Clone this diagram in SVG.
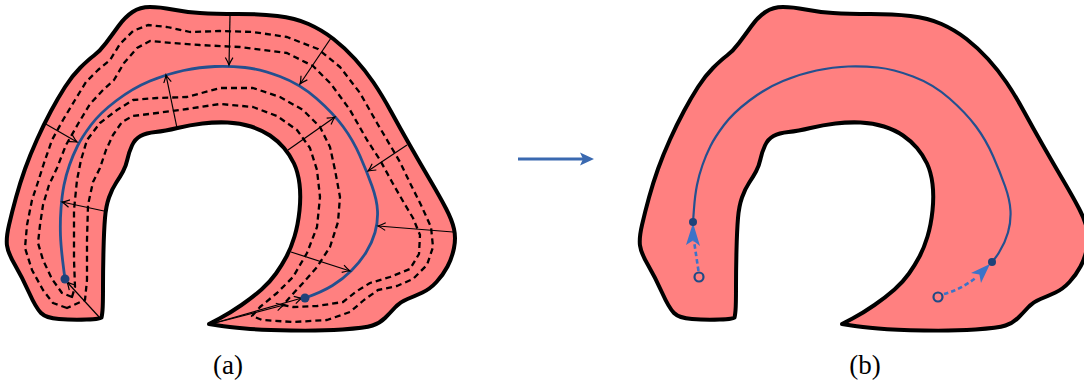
<svg xmlns="http://www.w3.org/2000/svg" xmlns:xlink="http://www.w3.org/1999/xlink" width="1084" height="385" viewBox="0 0 1084 385">
<style>
.region{fill:#ff8080;stroke:#000;stroke-width:4;stroke-linejoin:round}
.offset{fill:none;stroke:#000;stroke-width:2.3;stroke-dasharray:6 4;stroke-linejoin:round}
.axis{fill:none;stroke:#24508f;stroke-width:2.8;stroke-linecap:round}
.axis-b{fill:none;stroke:#24508f;stroke-width:2.2;stroke-linecap:round}
.normal{fill:none;stroke:#000;stroke-width:1.2;marker-end:url(#tip)}
.end{fill:#1f4279}
.orig{fill:none;stroke:#1f4a85;stroke-width:2.2}
.move{fill:none;stroke:#3b73c8;stroke-width:2.6;stroke-dasharray:4.5 3}
.movehead{fill:#3b73c8}
.label{font-family:"Liberation Serif","DejaVu Serif",serif;font-size:27px;fill:#000;text-anchor:middle}
</style>
<defs>
<marker id="tip" markerWidth="10" markerHeight="10" viewBox="-8 -5 10 10" refX="0" refY="0" orient="auto" markerUnits="userSpaceOnUse">
<path d="M-7.5,-3.8 Q-2.5,-0.8 0,0 Q-2.5,0.8 -7.5,3.8" fill="none" stroke="#000" stroke-width="1.2"/>
</marker>
<path id="outline" d="M101.5,317.5 Q101,319 86.5,319.5 Q72,320 59,319 Q46,318 41,313 Q36,308 29,292.5 Q22,277 15,265 Q8,253 7,245.5 Q6,238 9,225 Q12,212 16,197.5 Q20,183 25,169 Q30,155 37,139.5 Q44,124 51,111 Q58,98 65,87 Q72,76 80,68 Q88,60 94,55.5 Q100,51 106,43 Q112,35 118.5,26 Q125,17 132.5,12 Q140,7 150,7 Q160,7 172.5,9.5 Q185,12 200,13 Q215,14 237.5,14 Q260,14 277.5,16 Q295,18 308.5,24 Q322,30 333.5,39 Q345,48 355,59 Q365,70 373.5,82.5 Q382,95 391,111.5 Q400,128 410,145.5 Q420,163 430,180 Q440,197 446,208.5 Q452,220 454,229 Q456,238 454,248 Q452,258 447.5,266.5 Q443,275 436.5,282 Q430,289 422.5,292.5 Q415,296 407.5,299 Q400,302 395,307.5 Q390,313 385,318 Q380,323 372.5,325.5 Q365,328 342.5,329.5 Q320,331 291,330.5 Q262,330 245,328.5 Q228,327 218.5,325.5 L209,324 L219.5,318.5 Q230,313 241.5,305 Q253,297 261.5,289.5 Q270,282 276,273.5 Q282,265 286.5,256.5 Q291,248 294.5,236.5 Q298,225 299.5,210.5 Q301,196 299.5,184 Q298,172 294,163.5 Q290,155 284,148 Q278,141 270,135.5 Q262,130 251,126.5 Q240,123 227.5,122.5 Q215,122 202.5,123.5 Q190,125 177.5,128 Q165,131 155.5,132 Q146,133 140.5,136 Q135,139 132,145.5 Q129,152 127.5,159 Q126,166 123,171.5 Q120,177 116,183 Q112,189 109,197.5 Q106,206 105,218 Q104,230 103.5,250 Q103,270 103,287.5 Q103,305 102.5,310.5 Q102,316 101.5,317.5 Z"/>
</defs>

<g id="figure-a">
<g id="region-a"><use xlink:href="#outline" href="#outline" class="region"/></g>
<g id="offset-curves-a">
<polygon class="offset" points="67,308 53,303 43,290 32,270 25,248 27,225 32,200 38,182 44,163 52,140 63,120 75,100 86,82 98,70 110,60 120,44 133,31 148,25 167,27 190,32 220,31 253,32 287,37 318,49 340,67 360,93 377,123 390,145 400,162 410,183 421,205 431,227 433,247 427,265 413,279 397,286 378,290 364,300 350,312 327,320 293,322 262,320 252,316 260,307 277,293 293,277 307,253 317,227 320,197 317,170 310,148 297,130 277,116 253,107 220,104 187,109 157,113 133,116 122,122 113,135 106,150 100,168 93,182 88,205 87,240 87,280 85,300"/>
<polygon class="offset" points="72,297 62,293 52,279 43,260 38,243 40,225 43,205 49,185 57,168 66,145 78,124 90,104 103,90 114,80 124,63 137,48 150,41 173,43 200,45 240,47 287,53 313,66 331,84 350,110 367,140 380,160 392,182 404,203 413,218 420,235 419,254 410,269 390,277 370,283 357,291 343,302 317,306 293,307 283,305 290,297 303,283 317,267 330,247 338,222 340,197 335,170 330,147 320,127 303,110 280,97 253,88 220,88 187,97 157,98 133,100 117,110 100,123 87,140 81,160 77,180 74,210 74,260 75,287"/>
</g>
<g id="medial-axis-a">
<path class="axis" d="M65,279 Q61,250 60.5,236 Q60,222 61,208.5 Q62,195 64,185 Q66,175 69.5,165 Q73,155 77.5,146 Q82,137 91,125 Q100,113 116.5,100.5 Q133,88 150,81 Q167,74 183.5,70.5 Q200,67 215,66.5 Q230,66 245,67.5 Q260,69 280,76.5 Q300,84 316.5,98.5 Q333,113 343,126.5 Q353,140 360,156 Q367,172 372,186 Q377,200 377.5,211 Q378,222 375,232.5 Q372,243 366,252.5 Q360,262 351.5,270.5 Q343,279 332.5,285.5 Q322,292 305,298"/>
</g>
<g id="connectors-a">
<line class="normal" x1="230" y1="16" x2="229" y2="65"/>
<line class="normal" x1="331" y1="38" x2="300" y2="84"/>
<line class="normal" x1="177" y1="128" x2="166" y2="75"/>
<line class="normal" x1="44" y1="123" x2="77" y2="142"/>
<line class="normal" x1="288" y1="150" x2="335" y2="117"/>
<line class="normal" x1="407" y1="145" x2="368" y2="171"/>
<line class="normal" x1="104" y1="211" x2="62" y2="202"/>
<line class="normal" x1="453" y1="232" x2="378" y2="226"/>
<line class="normal" x1="291" y1="252" x2="350" y2="271"/>
<line class="normal" x1="100" y1="318" x2="67" y2="282"/>
<line class="normal" x1="211" y1="324" x2="302" y2="298"/>
<line class="normal" x1="211" y1="324" x2="284" y2="305"/>
</g>
<g id="endpoints-a">
<circle class="end" cx="65" cy="279" r="4.5"/>
<circle class="end" cx="305" cy="298" r="4.5"/>
</g>
<text class="label" x="228" y="374">(a)</text>
</g>

<g id="transition-arrow">
<line x1="518" y1="159" x2="584" y2="159" stroke="#3a69b0" stroke-width="3"/>
<polygon points="580,152.5 594,159 580,165.5 583,159" fill="#3a69b0"/>
</g>

<g id="figure-b">
<g id="region-b"><use xlink:href="#outline" href="#outline" class="region" x="633" y="0"/></g>
<g id="medial-axis-b">
<path class="axis-b" transform="translate(633,0)" d="M60,222 Q60.5,215 61,208.5 Q62,195 64,185 Q66,175 69.5,165 Q73,155 77.5,146 Q82,137 91,125 Q100,113 116.5,100.5 Q133,88 150,81 Q167,74 183.5,70.5 Q200,67 215,66.5 Q230,66 245,67.5 Q260,69 280,76.5 Q300,84 316.5,98.5 Q333,113 343,126.5 Q353,140 360,156 Q367,172 372,186 Q377,200 377.5,211 Q378,222 375,232.5 Q372,243 366,252.5 Q363,257.5 359,262"/>
</g>
<g id="connectors-b">
<path class="move" d="M698.5,271 L694,241"/>
<polygon class="movehead" points="693,223 700,246 693,240.5 686,245"/>
<path class="move" d="M944,294 Q960,290 977,277"/>
<polygon class="movehead" points="990,264 981,283 979.4,274.6 971,273"/>
</g>
<g id="endpoints-b">
<circle class="orig" cx="699" cy="277" r="4.5"/>
<circle class="orig" cx="938" cy="297" r="4.5"/>
<circle class="end" cx="693" cy="222" r="4"/>
<circle class="end" cx="992" cy="262" r="4"/>
</g>
<text class="label" x="865" y="374">(b)</text>
</g>
</svg>
